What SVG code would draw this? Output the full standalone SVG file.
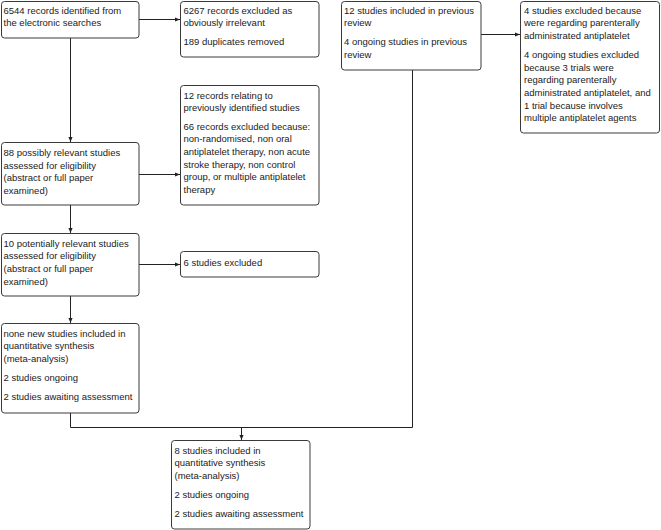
<svg xmlns="http://www.w3.org/2000/svg" width="661" height="530" viewBox="0 0 661 530">
<style>
.box{fill:#fff;stroke:#3a3a3a;stroke-width:1}
text{font-family:"Liberation Sans",Arial,sans-serif;font-size:9.5px;fill:#222}
.ln{fill:none;stroke:#222;stroke-width:1}
</style>
<defs>
<marker id="ah" viewBox="0 0 6 6" refX="6" refY="3" markerWidth="5" markerHeight="5" orient="auto" markerUnits="userSpaceOnUse">
<path d="M0,0.5 L6,3 L0,5.5 Z" fill="#222"/>
</marker>
</defs>
<rect width="661" height="530" fill="#fff"/>
<g id="connectors">
<path class="ln" d="M139,19.5 H180" marker-end="url(#ah)"/>
<path class="ln" d="M70.5,38 V142" marker-end="url(#ah)"/>
<path class="ln" d="M139,174.5 H180" marker-end="url(#ah)"/>
<path class="ln" d="M70.5,205 V233" marker-end="url(#ah)"/>
<path class="ln" d="M139,264.5 H180" marker-end="url(#ah)"/>
<path class="ln" d="M70.5,296 V323" marker-end="url(#ah)"/>
<path class="ln" d="M70.5,413 V427.5 H412.5 V70"/>
<path class="ln" d="M241.5,427.5 V440" marker-end="url(#ah)"/>
<path class="ln" d="M481,34.5 H520" marker-end="url(#ah)"/>
</g>
<g id="n1"><rect class="box" x="1.5" y="1.5" width="137.5" height="36.5" rx="3"/>
<text x="3.5" y="13.5">6544 records identified from</text>
<text x="3.5" y="26.2">the electronic searches</text></g>
<g id="n2"><rect class="box" x="180.5" y="1.5" width="138.5" height="55.5" rx="3"/>
<text x="183.5" y="13.5">6267 records excluded as</text>
<text x="183.5" y="26.2">obviously irrelevant</text>
<text x="183.5" y="45.2">189 duplicates removed</text></g>
<g id="n3"><rect class="box" x="180.5" y="85.5" width="138.5" height="119.5" rx="3"/>
<text x="183.5" y="98.5">12 records relating to</text>
<text x="183.5" y="111.2">previously identified studies</text>
<text x="183.5" y="129.5">66 records excluded because:</text>
<text x="183.5" y="142.2">non-randomised, non oral</text>
<text x="183.5" y="154.9">antiplatelet therapy, non acute</text>
<text x="183.5" y="167.6">stroke therapy, non control</text>
<text x="183.5" y="180.3">group, or multiple antiplatelet</text>
<text x="183.5" y="193">therapy</text></g>
<g id="n4"><rect class="box" x="1.5" y="142.5" width="137.5" height="62.5" rx="3"/>
<text x="3.5" y="156">88 possibly relevant studies</text>
<text x="3.5" y="168.7">assessed for eligibility</text>
<text x="3.5" y="181.4">(abstract or full paper</text>
<text x="3.5" y="194.1">examined)</text></g>
<g id="n5"><rect class="box" x="1.5" y="233.5" width="137.5" height="62.5" rx="3"/>
<text x="3.5" y="246.5">10 potentially relevant studies</text>
<text x="3.5" y="259.2">assessed for eligibility</text>
<text x="3.5" y="271.9">(abstract or full paper</text>
<text x="3.5" y="284.6">examined)</text></g>
<g id="n6"><rect class="box" x="180.5" y="251.5" width="138.5" height="25.5" rx="3"/>
<text x="183.5" y="265.5">6 studies excluded</text></g>
<g id="n7"><rect class="box" x="1.5" y="323.5" width="137.5" height="89.5" rx="3"/>
<text x="3.5" y="336.5">none new studies included in</text>
<text x="3.5" y="349.2">quantitative synthesis</text>
<text x="3.5" y="361.9">(meta-analysis)</text>
<text x="3.5" y="380.9">2 studies ongoing</text>
<text x="3.5" y="399.9">2 studies awaiting assessment</text></g>
<g id="n8"><rect class="box" x="171.5" y="440.5" width="138.5" height="88.5" rx="3"/>
<text x="174.5" y="453.5">8 studies included in</text>
<text x="174.5" y="466.2">quantitative synthesis</text>
<text x="174.5" y="478.9">(meta-analysis)</text>
<text x="174.5" y="497.9">2 studies ongoing</text>
<text x="174.5" y="516.9">2 studies awaiting assessment</text></g>
<g id="n9"><rect class="box" x="341.5" y="1.5" width="139.5" height="68.5" rx="3"/>
<text x="344" y="13.5">12 studies included in previous</text>
<text x="344" y="26.2">review</text>
<text x="344" y="45.2">4 ongoing studies in previous</text>
<text x="344" y="57.9">review</text></g>
<g id="n10"><rect class="box" x="520.5" y="1.5" width="139" height="131.5" rx="3"/>
<text x="524" y="13.5">4 studies excluded because</text>
<text x="524" y="26.2">were regarding parenterally</text>
<text x="524" y="38.9">administrated antiplatelet</text>
<text x="524" y="57.9">4 ongoing studies excluded</text>
<text x="524" y="70.6">because 3 trials were</text>
<text x="524" y="83.3">regarding parenterally</text>
<text x="524" y="96">administrated antiplatelet, and</text>
<text x="524" y="108.7">1 trial because involves</text>
<text x="524" y="121.4">multiple antiplatelet agents</text></g>
</svg>
